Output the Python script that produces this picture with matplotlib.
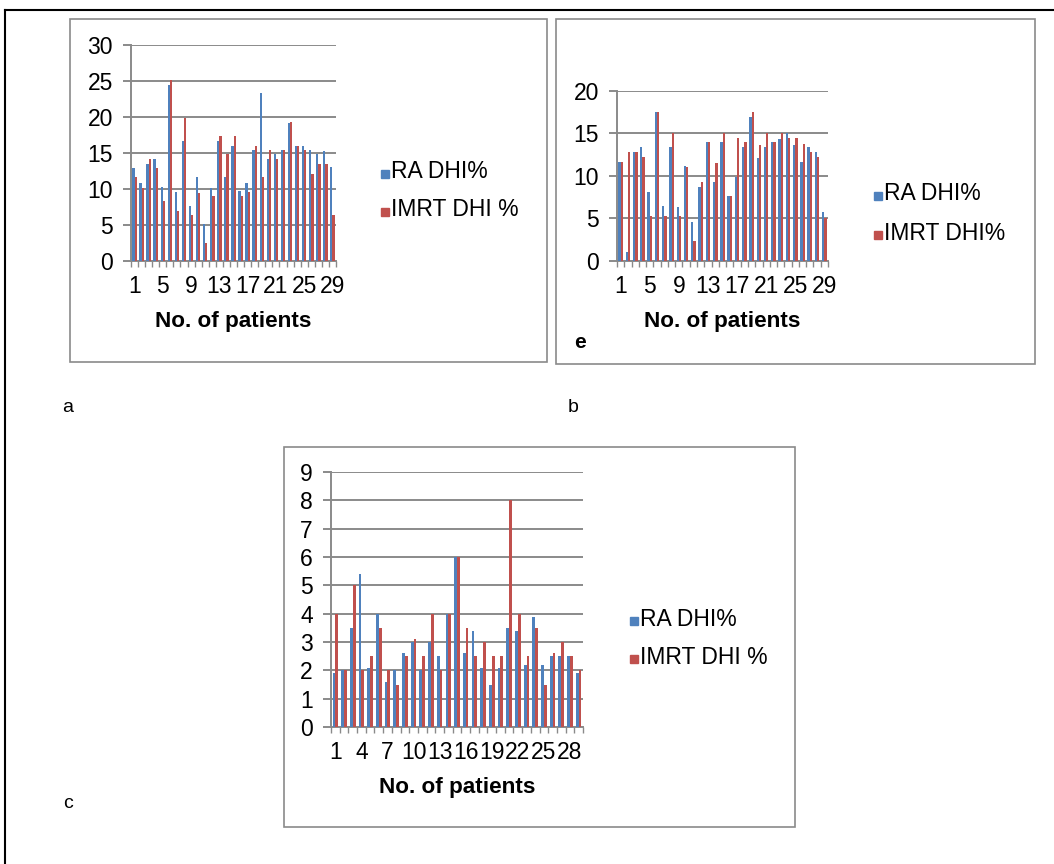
import numpy as np
import matplotlib.pyplot as plt
from matplotlib.patches import Rectangle
from matplotlib.lines import Line2D

W, H = 1054, 864
plt.rcParams['font.family'] = ['Liberation Sans', 'DejaVu Sans']

BLUE = '#4F81BD'
RED = '#C0504D'
GRID = '#8a8a8a'

patients = np.arange(1, 30)

# panel a
a_ra = [12.9, 10.9, 13.5, 14.1, 10.3, 24.5, 9.6, 16.6, 7.7, 11.6, 5.1, 10.2, 16.7, 11.6, 16.0,
        9.7, 10.9, 15.4, 23.3, 14.1, 14.8, 15.4, 19.2, 16.0, 16.0, 15.4, 14.8, 15.3, 13.1]
a_imrt = [11.6, 10.2, 14.1, 12.9, 8.3, 25.2, 7.0, 19.9, 6.4, 9.5, 2.5, 9.0, 17.4, 14.8, 17.4,
          9.0, 9.6, 16.0, 11.6, 15.4, 14.1, 15.4, 19.3, 16.0, 15.4, 12.1, 13.5, 13.5, 6.4]

# panel b
b_ra = [11.6, 1.1, 12.8, 13.4, 8.1, 17.5, 6.5, 13.4, 6.4, 11.2, 4.6, 8.7, 14.0, 9.3, 14.0,
        7.6, 9.9, 13.4, 16.9, 12.1, 13.4, 14.0, 14.4, 15.0, 13.7, 11.6, 13.4, 12.8, 5.8]
b_imrt = [11.6, 12.8, 12.8, 12.2, 5.3, 17.5, 5.3, 15.1, 5.3, 11.0, 2.3, 9.3, 14.0, 11.5, 15.1,
          7.6, 14.5, 14.0, 17.5, 13.7, 15.1, 14.0, 15.1, 14.5, 14.5, 13.8, 12.8, 12.2, 5.1]

# panel c
c_ra = [1.9, 2.0, 3.5, 5.4, 2.1, 4.0, 1.6, 2.0, 2.6, 3.0, 2.0, 3.0, 2.5, 4.0, 6.0,
        2.6, 3.4, 2.1, 1.5, 2.1, 3.5, 3.4, 2.2, 3.9, 2.2, 2.5, 2.5, 2.5, 1.9]
c_imrt = [4.0, 2.0, 5.0, 2.0, 2.5, 3.5, 2.0, 1.5, 2.5, 3.1, 2.5, 4.0, 2.0, 4.0, 6.0,
          3.5, 2.5, 3.0, 2.5, 2.5, 8.0, 4.0, 2.5, 3.5, 1.5, 2.6, 3.0, 2.5, 2.0]

fig = plt.figure(figsize=(W / 100, H / 100), dpi=100)


def fx(px):
    return px / W


def fy(py):
    return 1 - py / H


def box(l, t, r, b, color=GRID, lw=1.2):
    fig.add_artist(Rectangle((fx(l), fy(b)), (r - l) / W, (b - t) / H,
                             transform=fig.transFigure, fill=False,
                             edgecolor=color, lw=lw))


def panel(l, t, r, b, ra, imrt, ymax, ystep, xstep):
    ax = fig.add_axes([fx(l), fy(b), (r - l) / W, (b - t) / H])
    ax.bar(patients - 0.16, ra, width=0.32, color=BLUE, zorder=3)
    ax.bar(patients + 0.16, imrt, width=0.32, color=RED, zorder=3)
    ax.set_xlim(0.5, 29.5)
    ax.set_ylim(0, ymax)
    ax.set_yticks(np.arange(0, ymax + 1, ystep))
    ax.set_xticks(patients[::xstep])
    ax.set_xticks(np.arange(0.5, 30, 1), minor=True)
    ax.tick_params(axis='x', which='major', length=0, pad=10, labelsize=16.5)
    ax.tick_params(axis='x', which='minor', length=4, width=1, color=GRID)
    ax.tick_params(axis='y', length=6, width=1.4, color=GRID, pad=7, labelsize=16.5)
    ax.grid(axis='y', color=GRID, lw=1.4, zorder=0)
    for s in ['top', 'right']:
        ax.spines[s].set_visible(False)
    for s in ['left', 'bottom']:
        ax.spines[s].set_color(GRID)
        ax.spines[s].set_linewidth(1.4)
    ax.set_facecolor('none')
    fig.text(fx((l + r) / 2), fy(b + 60), 'No. of patients', ha='center', va='center',
             fontsize=16.2, fontweight='bold')
    return ax


def legend(x, rows, labels):
    for (yy, lab, col) in zip(rows, labels, [BLUE, RED]):
        fig.add_artist(Rectangle((fx(x), fy(yy + 6)), 8 / W, 8 / H,
                                 transform=fig.transFigure, color=col))
        fig.text(fx(x + 10), fy(yy), lab, ha='left', va='center', fontsize=16.5)


# outer frame
fig.add_artist(Line2D([fx(5), 1], [fy(10), fy(10)], transform=fig.transFigure,
                      color='black', lw=1.5))
fig.add_artist(Line2D([fx(5), fx(5)], [fy(10), 0], transform=fig.transFigure,
                      color='black', lw=1.5))

box(70, 19, 547, 362)
box(556, 19, 1035, 364)
box(284, 447, 795, 827)

panel(131, 45, 336, 261, a_ra, a_imrt, 30, 5, 4)
panel(617, 91, 828, 261, b_ra, b_imrt, 20, 5, 4)
panel(331, 472, 583, 727, c_ra, c_imrt, 9, 1, 3)

legend(381, [172, 210], ['RA DHI%', 'IMRT DHI %'])
legend(874, [194, 233], ['RA DHI%', 'IMRT DHI%'])
legend(630, [619, 657], ['RA DHI%', 'IMRT DHI %'])

fig.text(fx(580), fy(343), 'e', ha='center', va='center', fontsize=15, fontweight='bold')
fig.text(fx(68), fy(408), 'a', ha='center', va='center', fontsize=14)
fig.text(fx(573), fy(408), 'b', ha='center', va='center', fontsize=14)
fig.text(fx(68), fy(803), 'c', ha='center', va='center', fontsize=14)

fig.savefig('out.png', dpi=100)
